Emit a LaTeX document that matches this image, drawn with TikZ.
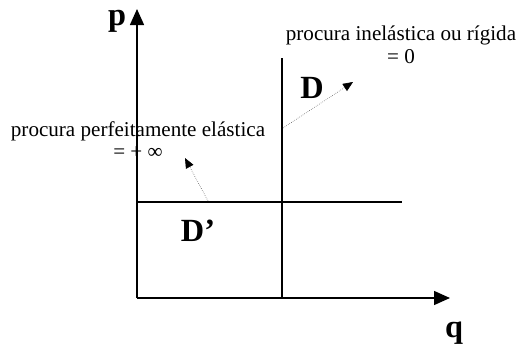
\documentclass[tikz,border=0pt]{standalone}
\usepackage{fontspec}
\setmainfont{Liberation Serif}
\usetikzlibrary{arrows.meta}
\tikzset{
  axisln/.style  = {-{Triangle[length=4.0mm,width=3.5mm]}, line width=1pt},
  curveln/.style = {line width=1pt},
  hintarr/.style = {-{Triangle[length=2.5mm,width=2.1mm,black]}, densely dotted, gray!60!black, thin},
  hinttxt/.style = {font=\fontsize{15}{16}\selectfont, align=center, inner sep=0pt},
  bigtxt/.style  = {font=\fontsize{23}{26}\selectfont\bfseries, inner sep=0pt}
}

\begin{document}
\begin{tikzpicture}[x=0.025cm, y=-0.025cm]
  \useasboundingbox (0,0) rectangle (520,347);
  % --- axes ------------------------------------------------------------
  \coordinate (O) at (137,298);
  \coordinate (ptop) at (137,9);
  \coordinate (qend) at (450,298);
  \draw[axisln] (O) -- (ptop);
  \draw[axisln] (O) -- (qend);
  \node[bigtxt, anchor=base] (plab) at (117,26) {p};
  \node[bigtxt, anchor=base] (qlab) at (454,337) {q};
  % --- the two demand curves ------------------------------------------
  % vertical: perfectly inelastic
  \coordinate (Dtop) at (282,58);
  \coordinate (Dbot) at (282,298);
  \draw[curveln] (Dbot) -- (Dtop);
  \node[bigtxt] (Dlab) at (312,88) {D};
  % horizontal: perfectly elastic
  \coordinate (Eleft) at (137,202);
  \coordinate (Eright) at (402,202);
  \draw[curveln] (Eleft) -- (Eright);
  \node[bigtxt] (Elab) at (198,231) {D’};
  % --- the notes and their pointers -----------------------------------
  \node[hinttxt] (inel) at (401,45)
        {procura inelástica ou rígida\\= 0};
  \node[hinttxt] (elas) at (138,140)
        {procura perfeitamente elástica\\= + ∞};
  \coordinate (inelfrom) at (283,128);
  \coordinate (inelto) at (353,82);
  \draw[hintarr] (inelfrom) -- (inelto);
  \coordinate (elasfrom) at (208,201);
  \coordinate (elasto) at (185,158);
  \draw[hintarr] (elasfrom) -- (elasto);
\end{tikzpicture}
\end{document}
